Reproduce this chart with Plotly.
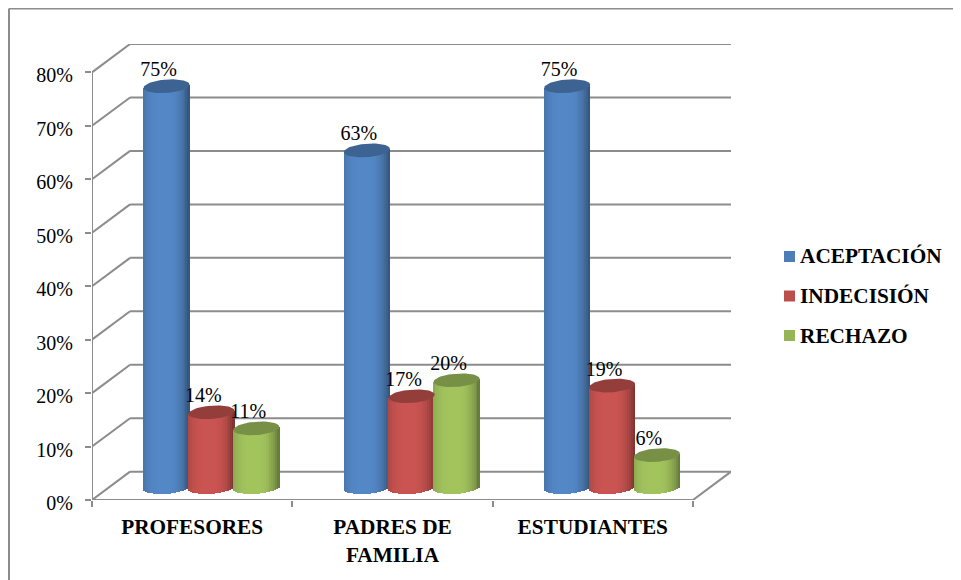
import numpy as np
import plotly.graph_objects as go

categories = ["PROFESORES", "PADRES DE<br>FAMILIA", "ESTUDIANTES"]
aceptacion = [75, 63, 75]
indecision = [14, 17, 19]
rechazo = [11, 20, 6]
y_ticks = [0, 10, 20, 30, 40, 50, 60, 70, 80]

series_names = ["ACEPTACIÓN", "INDECISIÓN", "RECHAZO"]
series_values = [aceptacion, indecision, rechazo]
series_colors = [(79, 129, 189), (192, 80, 77), (155, 187, 89)]
series_offsets = [0.372, 0.596, 0.820]

FONT = "Liberation Serif"
GREY = "#8c8c8c"

# the page keeps its 8px body margin, so the figure is that much smaller
FIG_W = 953
FIG_H = 572
M_L, M_R, M_T, M_B = 84, 230, 36, 80
plot_w = FIG_W - M_L - M_R
plot_h = FIG_H - M_T - M_B

# depth of the fake 3D box, in axis units
depth_x = 0.19
depth_y = 5.3
floor = 2.4      # bars stand in the middle of the floor
half_w = 0.115   # half width of a cylinder
cap_h = 1.25     # half height of the ellipse on top
tilt = 0.3       # the ellipses lean up to the right
n_strips = 24


def shade(rgb, f):
    return "rgb(%d,%d,%d)" % tuple(min(255, round(c * f)) for c in rgb)


def strip_factor(u):
    # light a bit left of the middle, darker to the edges, darkest on the right
    edge = 0.62 if u > 0 else 0.78
    return 1.05 - (1.05 - edge) * abs((u + 0.1) / 1.1) ** 3


def page_x(px):
    # page pixels to paper coordinates
    return (px - 8 - M_L) / plot_w


def page_y(px):
    return 1 - (px - 8 - M_T) / plot_h


fig = go.Figure()

for name, values, rgb, off in zip(series_names, series_values, series_colors, series_offsets):
    # body of the cylinder, a row of thin bars with a curved foot
    us = (np.arange(n_strips) + 0.5) / n_strips * 2 - 1
    xs, tops, bases, cols = [], [], [], []
    for i, v in enumerate(values):
        for u in us:
            foot = floor - cap_h * np.sqrt(1 - u**2) + tilt * u
            top = floor + v + tilt * u
            xs.append(i + off + u * half_w)
            bases.append(foot)
            tops.append(top - foot)
            cols.append(shade(rgb, strip_factor(u)))
    fig.add_trace(go.Bar(
        x=xs, y=tops, base=bases,
        width=half_w * 2 / n_strips * 1.25,
        marker=dict(color=cols, line=dict(width=0)),
        showlegend=False,
        hoverinfo="skip",
    ))
    # top ellipse
    t = np.linspace(0, 2 * np.pi, 60)
    cap_x, cap_y = [], []
    for i, v in enumerate(values):
        cap_x += list(i + off + half_w * np.cos(t)) + [None]
        cap_y += list(floor + v + cap_h * np.sin(t) + tilt * np.cos(t)) + [None]
    fig.add_trace(go.Scatter(
        x=cap_x, y=cap_y, mode="lines", fill="toself",
        fillcolor=shade(rgb, 0.77), line=dict(width=0),
        showlegend=False, hoverinfo="skip",
    ))

# value labels
for values, off in zip(series_values, series_offsets):
    fig.add_trace(go.Scatter(
        x=[i + off - 0.04 for i in range(len(values))],
        y=[floor + v + 2.8 for v in values],
        mode="text",
        text=["%d%%" % v for v in values],
        textposition="middle center",
        textfont=dict(family=FONT, size=20, color="black"),
        showlegend=False, hoverinfo="skip", cliponaxis=False,
    ))

# walls and floor, under the bars
shapes = []


def add_line(x0, y0, x1, y1, width=2):
    shapes.append(dict(type="line", xref="x", yref="y", x0=x0, y0=y0, x1=x1, y1=y1,
                       layer="below", line=dict(color=GREY, width=width)))


n_cat = len(categories)
for v in y_ticks:
    add_line(0, v, depth_x, v + depth_y)
    add_line(depth_x, v + depth_y, n_cat + depth_x, v + depth_y)
add_line(0, 0, 0, y_ticks[-1])
add_line(0, 0, n_cat, 0)
add_line(n_cat, 0, n_cat + depth_x, depth_y)

# picture frame, open on the right and at the bottom
frame = dict(color=GREY, width=2)
frame_x = page_x(9)
frame_y = page_y(8.5)
shapes.append(dict(type="line", xref="paper", yref="paper", x0=frame_x, x1=frame_x,
                   y0=page_y(580), y1=frame_y, line=frame))
shapes.append(dict(type="line", xref="paper", yref="paper", x0=frame_x, x1=page_x(961),
                   y0=frame_y, y1=frame_y, line=frame))

# legend by hand, the built in one keeps the swatch too far from the text
legend_rows = [256.5, 296, 335.5]
annotations = []
for name, rgb, row in zip(series_names, series_colors, legend_rows):
    shapes.append(dict(type="rect", xref="paper", yref="paper",
                       x0=page_x(784), x1=page_x(795),
                       y0=page_y(row + 5.5), y1=page_y(row - 5.5),
                       fillcolor=shade(rgb, 0.97), line=dict(width=0)))
    annotations.append(dict(xref="paper", yref="paper", x=page_x(798), y=page_y(row),
                            xanchor="left", yanchor="middle", showarrow=False, text=name,
                            font=dict(family=FONT, size=21.3, color="black", weight="bold")))

fig.update_layout(
    width=FIG_W,
    height=FIG_H,
    margin=dict(l=M_L, r=M_R, t=M_T, b=M_B, autoexpand=False),
    paper_bgcolor="white",
    plot_bgcolor="rgba(0,0,0,0)",
    barmode="overlay",
    bargap=0,
    showlegend=False,
    font=dict(family=FONT, size=20, color="black"),
    shapes=shapes,
    annotations=annotations,
    xaxis=dict(
        range=[0, n_cat + depth_x],
        tickvals=[i + 0.5 for i in range(n_cat)],
        ticktext=categories,
        tickfont=dict(family=FONT, size=21.3, color="black", weight="bold"),
        ticks="",
        ticklabelstandoff=12,
        showgrid=False, zeroline=False, showline=False,
        minor=dict(tickvals=list(range(n_cat + 1)), ticks="outside", ticklen=6,
                   tickwidth=2, tickcolor=GREY, showgrid=False),
    ),
    yaxis=dict(
        range=[0, y_ticks[-1] + depth_y],
        tickvals=y_ticks,
        ticktext=["%d%%" % v for v in y_ticks],
        ticks="outside", ticklen=6, tickwidth=2, tickcolor=GREY,
        tickfont=dict(family=FONT, size=20, color="black"),
        ticklabelstandoff=8,
        ticklabelshift=3,
        showgrid=False, zeroline=False, showline=False,
    ),
)

fig.write_html("out.html")
